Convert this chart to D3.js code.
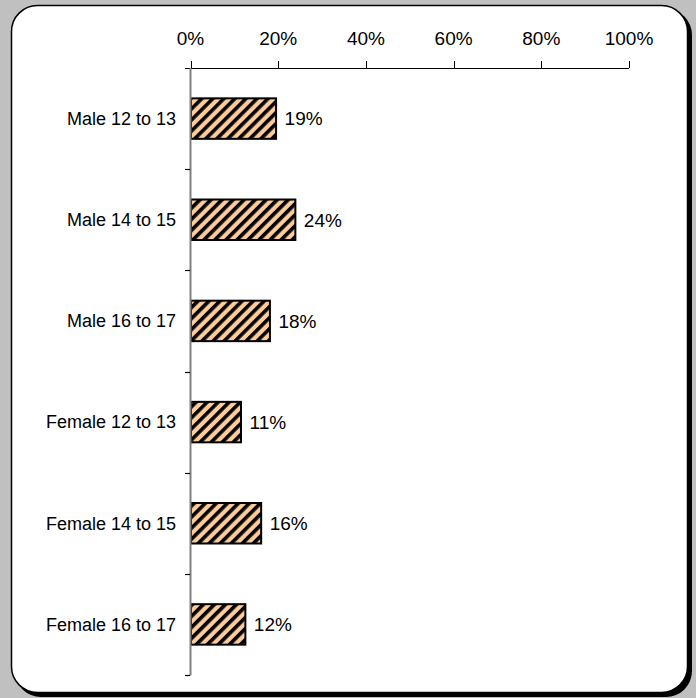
<!DOCTYPE html>
<html><head><meta charset="utf-8">
<script src="https://cdn.jsdelivr.net/npm/d3@7"></script>
<style>body{margin:0;background:#c0c0c0;} svg{display:block;}</style>
</head><body>
<svg id="chart" width="696" height="698"></svg>
<script>
const categories = ["Male 12 to 13","Male 14 to 15","Male 16 to 17","Female 12 to 13","Female 14 to 15","Female 16 to 17"];
const values = [19.4, 23.8, 18.0, 11.4, 16.0, 12.4];
const valueLabels = ["19%","24%","18%","11%","16%","12%"];
const tickValues = [0,20,40,60,80,100];
const tickLabels = ["0%","20%","40%","60%","80%","100%"];

const svg = d3.select("#chart");
svg.append("rect").attr("width",696).attr("height",698).attr("fill","#c0c0c0");
// panel shadow + panel
svg.append("rect").attr("x",15).attr("y",9).attr("width",677).attr("height",688).attr("rx",26).attr("fill","#000");
svg.append("rect").attr("x",11.5).attr("y",5.5).attr("width",676).attr("height",687).attr("rx",26)
  .attr("fill","#fff").attr("stroke","#000").attr("stroke-width",1.5);

const defs = svg.append("defs");
const pat = defs.append("pattern").attr("id","hatch").attr("patternUnits","userSpaceOnUse")
  .attr("width",7.8).attr("height",7.8).attr("patternTransform","rotate(45)");
pat.append("rect").attr("width",7.8).attr("height",7.8).attr("fill","#ffcc99");
pat.append("rect").attr("width",3.6).attr("height",7.8).attr("fill","#000");

const x = d3.scaleLinear().domain([0,100]).range([190.5,629]);
const y = d3.scaleBand().domain(categories).range([68,675]).paddingInner(0.6).paddingOuter(0.3);
const yb = d3.scaleBand().domain(categories).range([68,675]);

const font = "'Liberation Sans', Arial, sans-serif";

// top axis
const g = svg.append("g");
g.append("line").attr("x1",185).attr("x2",x(100)).attr("y1",68.5).attr("y2",68.5).attr("stroke","#000").attr("stroke-width",1);
g.selectAll(".xt").data(tickValues).join("line")
  .attr("x1",d=>Math.round(x(d))+0.5).attr("x2",d=>Math.round(x(d))+0.5)
  .attr("y1",61).attr("y2",68).attr("stroke","#000");
g.selectAll(".xl").data(tickValues).join("text")
  .attr("x",d=>x(d)).attr("y",45).attr("text-anchor","middle")
  .attr("font-family",font).attr("font-size",19).attr("fill","#000")
  .text((d,i)=>tickLabels[i]);

// bars
svg.selectAll(".bar").data(values).join("rect")
  .attr("x",x(0)+0.5).attr("y",(d,i)=>y(categories[i]))
  .attr("width",d=>x(d)-x(0)).attr("height",y.bandwidth())
  .attr("fill","url(#hatch)").attr("stroke","#000").attr("stroke-width",2);

// vertical axis
svg.append("line").attr("x1",190.5).attr("x2",190.5).attr("y1",68).attr("y2",675.5).attr("stroke","#808080").attr("stroke-width",2);
const bounds = categories.map(c=>yb(c)+yb.bandwidth());
svg.selectAll(".yt").data(bounds).join("line")
  .attr("x1",185).attr("x2",190).attr("y1",d=>Math.round(d)+0.5).attr("y2",d=>Math.round(d)+0.5)
  .attr("stroke","#000").attr("stroke-width",1.2);

svg.selectAll(".cl").data(categories).join("text")
  .attr("x",176).attr("y",c=>yb(c)+yb.bandwidth()/2).attr("dy","0.35em")
  .attr("text-anchor","end").attr("font-family",font).attr("font-size",18).attr("fill","#000")
  .text(c=>c);

svg.selectAll(".vl").data(values).join("text")
  .attr("x",d=>x(d)+9).attr("y",(d,i)=>yb(categories[i])+yb.bandwidth()/2).attr("dy","0.36em")
  .attr("font-family",font).attr("font-size",19).attr("fill","#000")
  .text((d,i)=>valueLabels[i]);
</script>
</body></html>
